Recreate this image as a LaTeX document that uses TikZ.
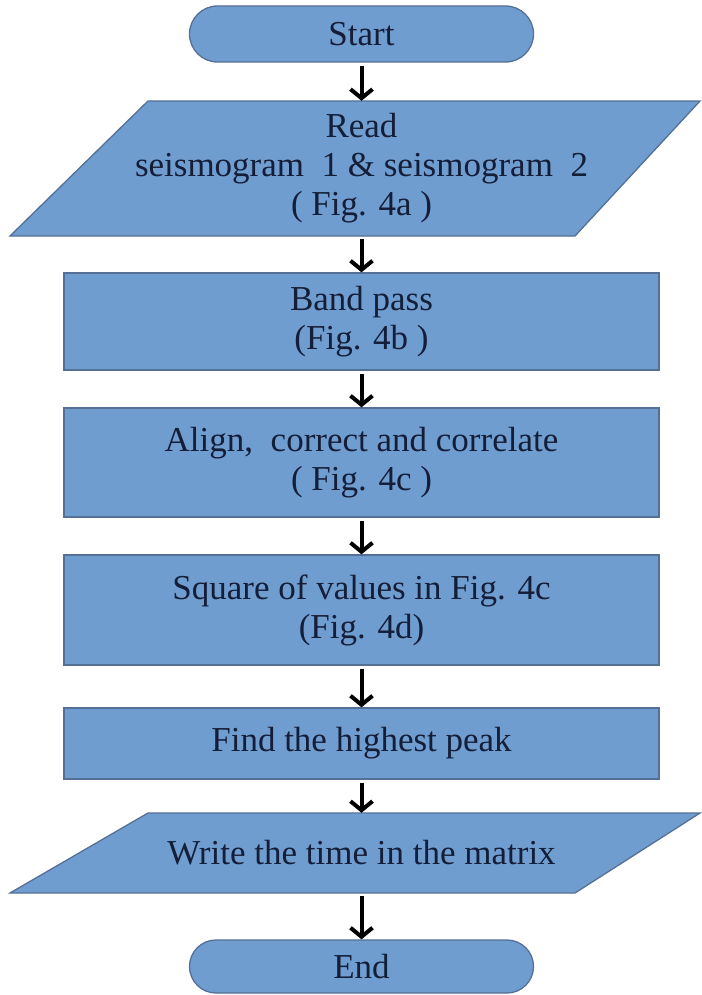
\documentclass[tikz,border=0pt]{standalone}
\usepackage{fontspec}
\setmainfont{Liberation Serif}
\usetikzlibrary{arrows.meta,shapes.misc}
\definecolor{boxfill}{RGB}{112,157,208}
\definecolor{boxline}{RGB}{84,112,150}
\definecolor{txt}{RGB}{20,30,56}
\begin{document}
\begin{tikzpicture}[x=1pt,y=-1pt,
  shp/.style={fill=boxfill,draw=boxline,line width=1.3pt},
  lbl/.style={text=txt,font=\fontsize{35}{39}\selectfont,align=center,inner sep=0pt},
  proc/.style={shp,lbl,rectangle,minimum width=595pt},
  term/.style={shp,lbl,rounded rectangle,minimum width=344pt},
  arr/.style={line width=4pt,-{Straight Barb[length=9pt,width=22pt]}}
]
\useasboundingbox (0,0) rectangle (701,995);
\fill[white] (0,0) rectangle (701,995);

\node[term,minimum height=56pt] (start) at (361.5,34) {Start};

\draw[shp] (148,101) -- (700,101) -- (575,236) -- (10,236) -- cycle;
\node[lbl,minimum height=135pt] (read) at (361.5,168.5) {Read\\seismogram \ 1 \& seismogram \ 2\\( Fig. 4a )};

\node[proc,minimum height=97pt] (band) at (361.5,321.5) {Band pass\\(Fig. 4b )};
\node[proc,minimum height=109pt] (align) at (361.5,462.5) {Align, \ correct and correlate\\( Fig. 4c )};
\node[proc,minimum height=110pt] (square) at (361.5,610) {Square of values in Fig. 4c\\(Fig. 4d)};
\node[proc,minimum height=71pt] (find) at (361.5,743.5) {Find the highest peak};

\draw[shp] (148,813) -- (700,813) -- (575,893) -- (10,893) -- cycle;
\node[lbl,minimum height=80pt] (write) at (361.5,853) {Write the time in the matrix};

\node[term,minimum height=53pt] (end) at (361.5,966.5) {End};

\draw[arr,shorten <=3pt] (start.south) -- (read.north);
\draw[arr,shorten <=3pt] (read.south) -- (band.north);
\draw[arr,shorten <=3pt] (band.south) -- (align.north);
\draw[arr,shorten <=3pt] (align.south) -- (square.north);
\draw[arr,shorten <=3pt] (square.south) -- (find.north);
\draw[arr,shorten <=3pt] (find.south) -- (write.north);
\draw[arr,shorten <=3pt] (write.south) -- (end.north);
\end{tikzpicture}
\end{document}
